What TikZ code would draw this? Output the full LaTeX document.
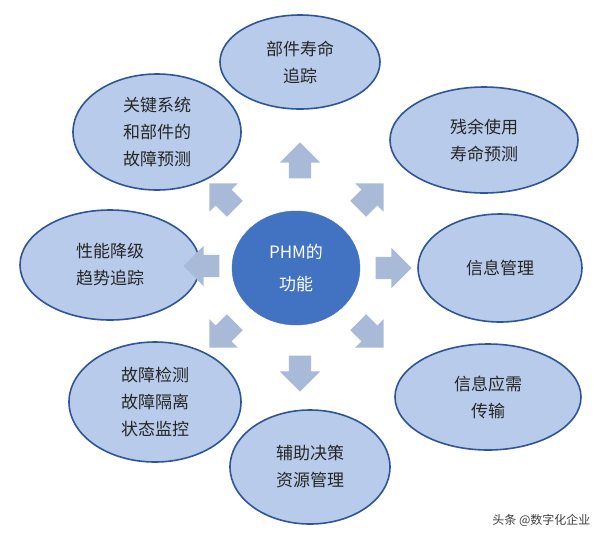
\documentclass[tikz,border=0pt]{standalone}
\usepackage{fontspec}
\setmainfont{Noto Sans CJK SC}
\usetikzlibrary{shapes.arrows}
\definecolor{ellfill}{HTML}{B8CBEA}
\definecolor{ellline}{HTML}{2F5597}
\definecolor{ctr}{HTML}{4272C2}
\definecolor{arr}{HTML}{A9BAD9}
\begin{document}
\begin{tikzpicture}[x=1pt,y=-1pt,
  arrw/.style={single arrow,fill=arr,draw=none,minimum height=36pt,single arrow head extend=9pt,inner sep=11pt,text width=0pt,text height=0pt,text depth=0pt}]
\fill[white] (0,0) rectangle (600,539);
\useasboundingbox (0,0) rectangle (600,539);
\newcommand{\myell}[6]{\draw[draw=ellline,line width=1.6pt,fill=ellfill] (#2,#3) ellipse [x radius=#4,y radius=#5];
  \node[align=center,font=\fontsize{17}{27}\selectfont,text=black!85] (#1) at (#2,#3) {#6};}
\myell{t}{300}{62}{80}{47}{部件寿命\\追踪}
\myell{tr}{484}{140}{94}{53}{残余使用\\寿命预测}
\myell{r}{500}{268}{82}{54}{信息管理}
\myell{br}{488}{397}{93}{53}{信息应需\\传输}
\myell{b}{310}{467}{80}{57}{辅助决策\\资源管理}
\myell{bl}{155}{402}{86}{60}{故障检测\\故障隔离\\状态监控}
\myell{l}{110}{265}{90}{55}{性能降级\\趋势追踪}
\myell{tl}{157}{132}{84}{58}{关键系统\\和部件的\\故障预测}
\draw[fill=ctr,draw=ctr] (296,268) ellipse [x radius=64,y radius=57];
\node[align=center,text=white,font=\fontsize{17}{32}\selectfont] (c) at (296,268) {PHM的\\功能};
\foreach \n/\x/\y/\a in {au/300/166/90, ad/300/368/-90, al/207/266/180, ar/388/268/0,
  aul/226/200/135, aur/367/200/45, adl/226/331/-135, adr/367/331/-45}
  \node[arrw,rotate=\a] (\n) at (\x,\y) {};
\node[anchor=east,font=\fontsize{12}{14}\selectfont,text=black!75] (wm) at (594,520) {头条 @数字化企业};
\end{tikzpicture}
\end{document}
